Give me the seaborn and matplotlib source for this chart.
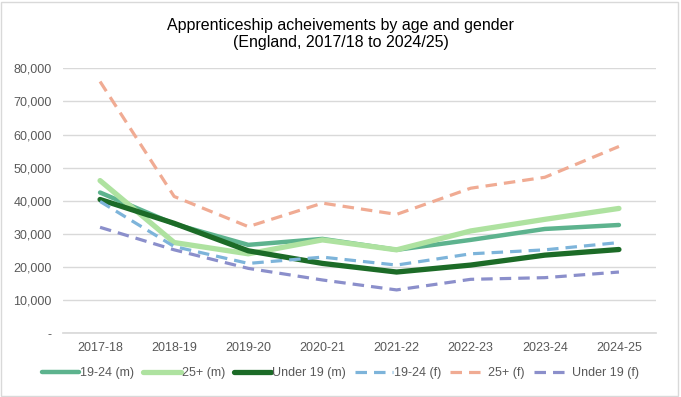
import matplotlib.pyplot as plt
import pandas as pd
import seaborn as sns
from matplotlib.patches import Rectangle
from matplotlib.ticker import FuncFormatter

years = ["2017-18", "2018-19", "2019-20", "2020-21",
         "2021-22", "2022-23", "2023-24", "2024-25"]

m_19_24 = [42500, 33000, 26700, 28500, 25200, 28200, 31500, 32700]
m_25_plus = [46100, 27400, 24000, 28200, 25200, 30900, 34400, 37700]
m_under_19 = [40400, 33200, 24900, 21100, 18500, 20600, 23600, 25300]
f_19_24 = [39800, 26200, 21100, 23000, 20600, 24000, 25200, 27400]
f_25_plus = [76000, 41300, 32200, 39300, 35900, 43800, 47100, 56400]
f_under_19 = [32000, 25200, 19600, 16100, 13100, 16300, 16800, 18500]

series = {
    "19-24 (m)": m_19_24,
    "25+ (m)": m_25_plus,
    "Under 19 (m)": m_under_19,
    "19-24 (f)": f_19_24,
    "25+ (f)": f_25_plus,
    "Under 19 (f)": f_under_19,
}

styles = {
    "19-24 (m)": dict(color="#5db38e", lw=3.2, dashed=False),
    "25+ (m)": dict(color="#aee2a0", lw=3.8, dashed=False),
    "Under 19 (m)": dict(color="#1c6b27", lw=3.8, dashed=False),
    "19-24 (f)": dict(color="#7db4da", lw=2.3, dashed=True),
    "25+ (f)": dict(color="#f0ab93", lw=2.3, dashed=True),
    "Under 19 (f)": dict(color="#8b8fcb", lw=2.3, dashed=True),
}

df = pd.DataFrame(
    [(name, i, v) for name, vals in series.items() for i, v in enumerate(vals)],
    columns=["series", "x", "value"],
)

sns.set_theme(style="white")
plt.rcParams["font.family"] = ["Liberation Sans", "DejaVu Sans"]

fig = plt.figure(figsize=(6.81, 3.97), dpi=100)
ax = fig.add_axes([0.0925, 0.1604, 0.8708, 0.6676])

for name in series:
    st = styles[name]
    sub = df[df["series"] == name]
    sns.lineplot(data=sub, x="x", y="value", ax=ax, color=st["color"],
                 linewidth=st["lw"], label=name, solid_capstyle="round",
                 dash_capstyle="butt")
    line = ax.lines[-1]
    if st["dashed"]:
        line.set_dashes((3.6, 2.2))

ax.set_xlim(-0.5, len(years) - 0.5)
ax.set_ylim(0, 80000)
ax.set_yticks(range(0, 80001, 10000))
ax.yaxis.set_major_formatter(
    FuncFormatter(lambda v, _: "-" if v == 0 else f"{int(v):,}"))
ax.set_xticks(range(len(years)))
ax.set_xticklabels(years)
ax.set_xlabel("")
ax.set_ylabel("")

ax.grid(axis="y", color="#d9d9d9", linewidth=1)
ax.set_axisbelow(True)
for side in ["top", "right", "left"]:
    ax.spines[side].set_visible(False)
ax.spines["bottom"].set_color("#d9d9d9")
ax.tick_params(axis="both", length=0, labelsize=9, labelcolor="#595959")
ax.tick_params(axis="y", pad=8)
ax.tick_params(axis="x", pad=6)

ax.get_legend().remove()
handles, labels = ax.get_legend_handles_labels()
fig.legend(handles, labels, loc="center", bbox_to_anchor=(0.5, 0.06),
           ncol=6, frameon=False, fontsize=9, handlelength=3.0,
           handletextpad=0.1, columnspacing=0.7, labelcolor="#595959")

fig.text(0.5, 0.914, "Apprenticeship acheivements by age and gender\n"
         "(England, 2017/18 to 2024/25)", ha="center", va="center",
         fontsize=11.5, color="black", linespacing=1.15)

fig.patches.append(Rectangle((0.002, 0.003), 0.994, 0.993,
                             transform=fig.transFigure, fill=False,
                             edgecolor="#d9d9d9", linewidth=1))

fig.savefig("out.png", dpi=100)
